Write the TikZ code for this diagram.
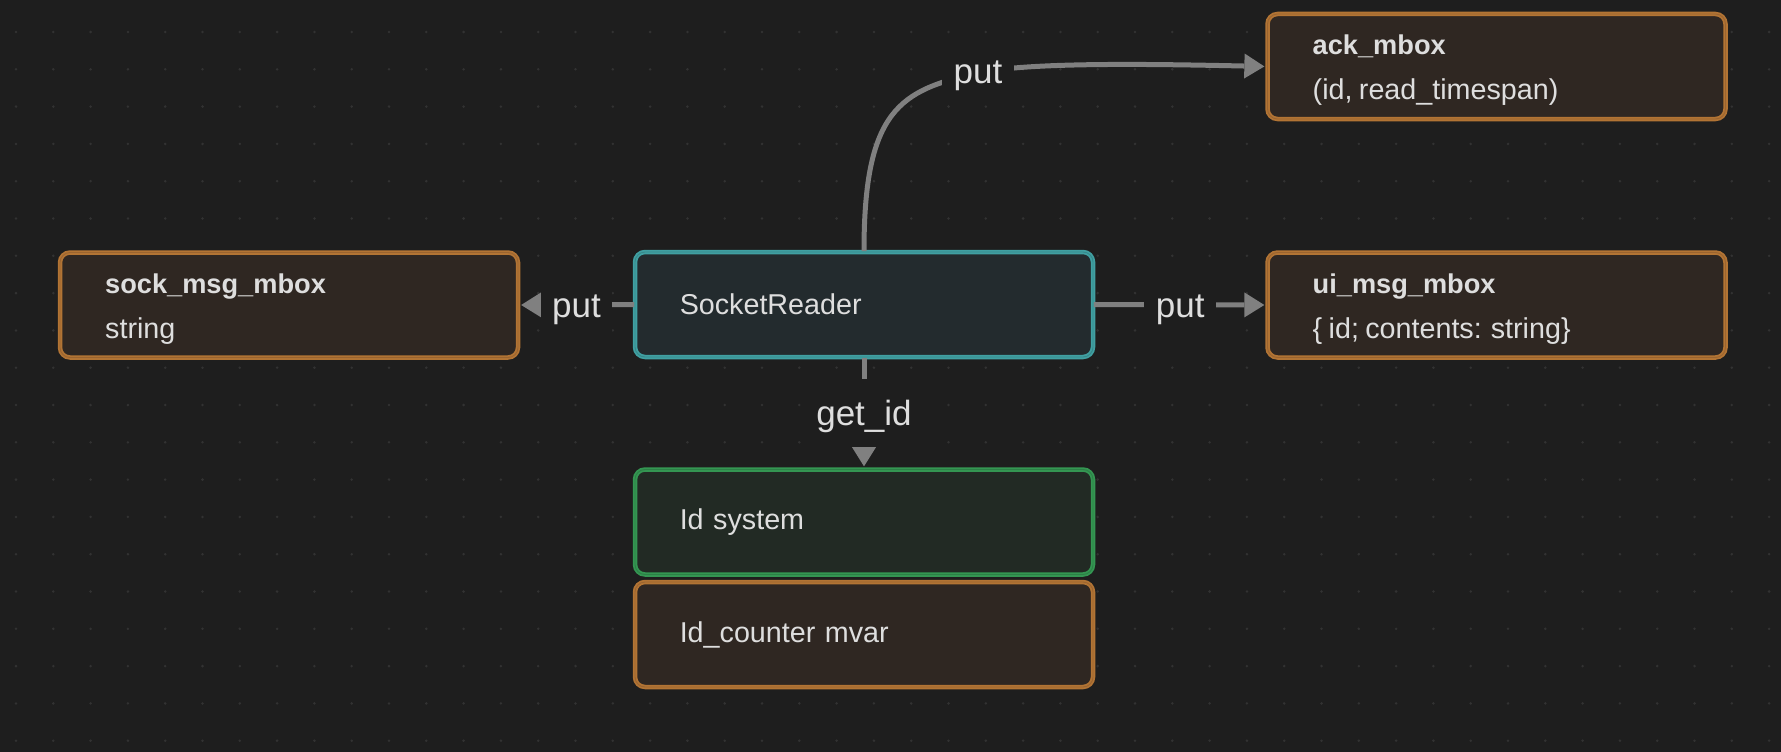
\documentclass[tikz,border=0pt]{standalone}
\usepackage{fontspec}
\setmainfont{Liberation Sans}[WordSpace=0.8]
\usetikzlibrary{arrows.meta,calc}
\definecolor{bg}{HTML}{1E1E1E}
\definecolor{dotc}{HTML}{323232}
\definecolor{orng}{HTML}{B27434}
\definecolor{orngdk}{HTML}{9A6430}
\definecolor{orngfill}{HTML}{2F2722}
\definecolor{teal}{HTML}{40A0A2}
\definecolor{tealdk}{HTML}{36888A}
\definecolor{tealfill}{HTML}{232B2E}
\definecolor{grn}{HTML}{349652}
\definecolor{grndk}{HTML}{2C8046}
\definecolor{grnfill}{HTML}{222A24}
\definecolor{edgec}{HTML}{808080}
\definecolor{txt}{HTML}{DEDEDE}
\newcommand\mybodyfont{\fontsize{28.7}{34}\selectfont}
\newcommand\mytitlefont{\fontsize{27.2}{33}\selectfont\bfseries}
\newcommand\mylblfont{\fontsize{35}{40}\selectfont}
\begin{document}
\begin{tikzpicture}[x=1pt,y=-1pt,
  box/.style={line width=1.8pt, double distance=0.9pt, rounded corners=10pt, minimum width=458pt, minimum height=105pt, inner sep=0pt},
  mbox/.style={box, draw=orng, double=orngdk, fill=orngfill},
  single/.style={text width=368.5pt, inner xsep=44.75pt, inner ysep=0pt, align=left, font=\mybodyfont, text=txt},
  ttl/.style={font=\mytitlefont, text=txt, inner sep=0pt, anchor=base west},
  sub/.style={font=\mybodyfont, text=txt, inner sep=0pt, anchor=base west},
  lbl/.style={fill=bg, text=txt, font=\mylblfont, inner xsep=11.5pt, inner ysep=12pt, text height=34.5pt, text depth=9.5pt},
  edge/.style={draw=edgec, line width=5pt, -{Triangle[length=20pt,width=25pt,line width=0pt]}, shorten >=2.25pt}
]
\useasboundingbox (0,0) rectangle (1781,752);
\fill[bg] (0,0) rectangle (1781,752);
\foreach \i in {0,...,47} {
  \foreach \j in {0,...,19} {
    \fill[dotc] ({16+37.3*\i},{32+37.3*\j}) circle (1.4pt);
  }
}
% boxes
\node[mbox] (sock) at (289,305) {};
\node[box, draw=teal, double=tealdk, fill=tealfill, single] (SR) at (864,304.5) {SocketReader};
\node[mbox] (ui) at (1496.5,305) {};
\node[mbox] (ack) at (1496.5,66.5) {};
\node[box, draw=grn, double=grndk, fill=grnfill, single] (Id) at (864,522) {Id system};
\node[mbox, single] (Idc) at (864,634.5) {Id\_counter mvar};
% texts in mboxes
\node[ttl] (ackT) at ($(ack.center)+(-184,-12)$) {ack\_mbox};
\node[sub] (ackS) at ($(ack.center)+(-184,33)$) {(id, read\_timespan)};
\node[ttl] (uiT) at ($(ui.center)+(-184,-12)$) {ui\_msg\_mbox};
\node[sub] (uiS) at ($(ui.center)+(-184,33)$) {\{ id; contents: string\}};
\node[ttl] (sockT) at ($(sock.center)+(-184,-12)$) {sock\_msg\_mbox};
\node[sub] (sockS) at ($(sock.center)+(-184,33)$) {string};
% connectors
\draw[edge] (SR.west) -- node[lbl] (putL) {put} (sock.east);
\draw[edge] (SR.east) -- node[lbl] (putR) {put} (ui.west);
\draw[edge] (SR.south) -- node[lbl] (getid) {get\_id} (Id.north);
\coordinate (cbend) at (978,73);
\draw[edge] (SR.north) .. controls (864,110) and (900,90) .. (cbend)
  .. controls (1028,62) and (1150,64) .. (ack.west);
\node[lbl] (putT) at (978,70.8) {put};
\end{tikzpicture}
\end{document}
